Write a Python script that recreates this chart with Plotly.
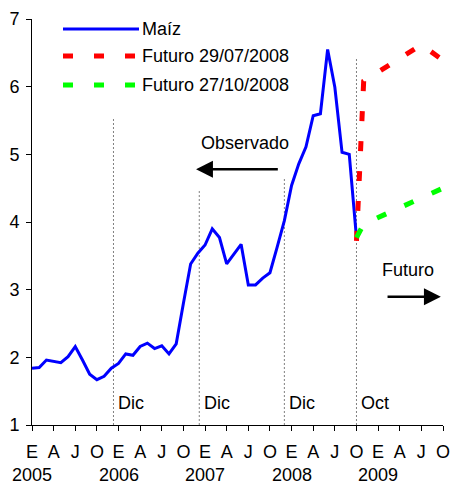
import plotly.graph_objects as go

# ---- data ----
# month index: 0 = Jan 2005 ... 57 = Oct 2009
maiz_months = list(range(0, 46))
maiz_values = [1.84, 1.85, 1.96, 1.94, 1.92, 2.01, 2.16, 1.96, 1.75, 1.67,
               1.72, 1.84, 1.91, 2.05, 2.03, 2.16, 2.21, 2.13, 2.17, 2.05,
               2.20, 2.80, 3.38, 3.54, 3.66, 3.90, 3.77, 3.38, 3.53, 3.67,
               3.07, 3.07, 3.17, 3.25, 3.63, 4.02, 4.54, 4.86, 5.11, 5.57,
               5.60, 6.55, 5.99, 5.03, 5.00, 3.77]

fut1_months = [45, 46, 54, 57]
fut1_values = [3.72, 6.08, 6.62, 6.39]

fut2_months = [45, 46, 57]
fut2_values = [3.77, 3.97, 4.50]

series_names = ["Maíz", "Futuro 29/07/2008", "Futuro 27/10/2008"]

tick_months = list(range(0, 58, 3))
tick_labels = ["E", "A", "J", "O"] * 5
year_months = [0, 12, 24, 36, 48]
year_labels = ["2005", "2006", "2007", "2008", "2009"]

marker_months = [11.3, 23.2, 35.0, 45.0]
marker_tops = [5.53, 4.47, 4.66, 6.41]
marker_labels = ["Dic", "Dic", "Dic", "Oct"]

FONT = "Liberation Sans, Arial, sans-serif"
FS = 18

fig = go.Figure()

# reference vertical dotted lines
for m, top in zip(marker_months, marker_tops):
    fig.add_trace(go.Scatter(x=[m, m], y=[1, top], mode="lines",
                             line=dict(color="#808080", width=1, dash="2px,2px"),
                             showlegend=False, hoverinfo="skip"))

fig.add_trace(go.Scatter(x=maiz_months, y=maiz_values, mode="lines",
                         name=series_names[0],
                         line=dict(color="#0000FF", width=3), showlegend=False))
fig.add_trace(go.Scatter(x=fut1_months, y=fut1_values, mode="lines",
                         name=series_names[1],
                         line=dict(color="#FF0000", width=5, dash="10px,20px"),
                         showlegend=False))
fig.add_trace(go.Scatter(x=fut2_months, y=fut2_values, mode="lines",
                         name=series_names[2],
                         line=dict(color="#00FF00", width=5, dash="10px,20px"),
                         showlegend=False))

W, H = 451, 483
# plot area in page pixels: x 32..443, y 19..425
ML, MR, MT, MB = 32, W - 443, 19, H - 425
PW = W - ML - MR
PH = H - MT - MB

def px2paper_x(px):
    return (px - ML) / PW

def px2paper_y(py):
    return (H - MB - py) / PH

annotations = []
shapes = []

# manual legend
leg_colors = ["#0000FF", "#FF0000", "#00FF00"]
leg_widths = [3, 5, 5]
leg_dash = ["solid", "10px,21px", "10px,21px"]
leg_y = [29, 56, 85]
for name, c, w, d, yy in zip(series_names, leg_colors, leg_widths, leg_dash, leg_y):
    shapes.append(dict(type="line", xref="paper", yref="paper",
                       x0=px2paper_x(63), x1=px2paper_x(139),
                       y0=px2paper_y(yy), y1=px2paper_y(yy),
                       line=dict(color=c, width=w, dash=d)))
    annotations.append(dict(xref="paper", yref="paper", x=px2paper_x(140),
                            y=px2paper_y(yy), text=name, showarrow=False,
                            xanchor="left", yanchor="middle",
                            font=dict(family=FONT, size=FS, color="black")))

# year labels
for m, lab in zip(year_months, year_labels):
    annotations.append(dict(xref="x", yref="paper", x=m, y=px2paper_y(475),
                            text=lab, showarrow=False, xanchor="center",
                            yanchor="middle",
                            font=dict(family=FONT, size=FS, color="black")))

# marker labels
for m, lab in zip(marker_months, marker_labels):
    annotations.append(dict(xref="x", yref="y", x=m, y=1.33, text=lab,
                            showarrow=False, xanchor="left", yanchor="middle",
                            xshift=3,
                            font=dict(family=FONT, size=FS, color="black")))

# Observado / Futuro
annotations.append(dict(xref="x", yref="y", x=29.5, y=5.17, text="Observado",
                        showarrow=False, font=dict(family=FONT, size=FS, color="black")))
annotations.append(dict(xref="x", yref="y", x=22.75, y=4.78, ax=34.3, ay=4.78,
                        axref="x", ayref="y", text="", showarrow=True,
                        arrowhead=2, arrowsize=1.35, arrowwidth=2.5,
                        arrowcolor="black"))
annotations.append(dict(xref="x", yref="y", x=52.2, y=3.29, text="Futuro",
                        showarrow=False, font=dict(family=FONT, size=FS, color="black")))
annotations.append(dict(xref="x", yref="y", x=56.7, y=2.895, ax=49.1, ay=2.895,
                        axref="x", ayref="y", text="", showarrow=True,
                        arrowhead=2, arrowsize=1.35, arrowwidth=2.5,
                        arrowcolor="black"))

fig.update_layout(
    width=W, height=H, autosize=False,
    margin=dict(l=ML, r=MR, t=MT, b=MB, autoexpand=False),
    paper_bgcolor="white", plot_bgcolor="white",
    font=dict(family=FONT, size=FS, color="black"),
    showlegend=False,
    hovermode=False,
    annotations=annotations,
    shapes=shapes,
    xaxis=dict(range=[0, 57], tickmode="array", tickvals=tick_months,
               ticktext=tick_labels, showline=True, linecolor="black",
               linewidth=1, ticks="outside", ticklen=5, tickcolor="black",
               showgrid=False, zeroline=False, automargin=False,
               ticklabelstandoff=5,
               tickfont=dict(family=FONT, size=FS, color="black")),
    yaxis=dict(range=[1, 7], dtick=1, showline=True, linecolor="black",
               linewidth=1, ticks="outside", ticklen=5, tickcolor="black",
               showgrid=False, zeroline=False, automargin=False,
               ticklabelstandoff=3,
               tickfont=dict(family=FONT, size=FS, color="black")),
)

fig.write_html(
    "out.html",
    config={"displayModeBar": False},
    post_script="document.body.style.margin='0';"
                "document.body.style.overflow='hidden';"
                "document.documentElement.style.overflow='hidden';",
)
